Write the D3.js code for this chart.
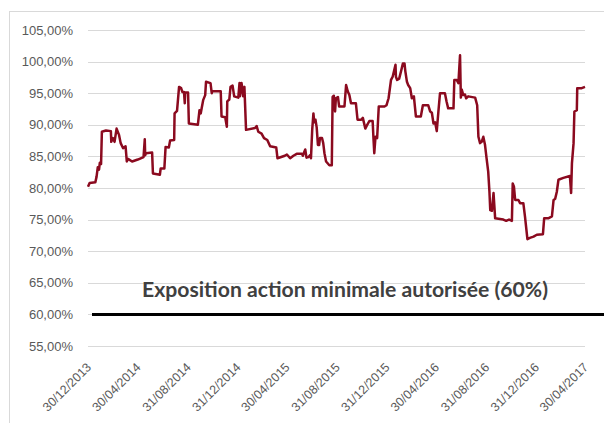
<!DOCTYPE html>
<html>
<head>
<meta charset="utf-8">
<script src="https://cdn.jsdelivr.net/npm/d3@7"></script>
<style>
  body { margin: 0; background: #fff; }
  svg { display: block; }
</style>
</head>
<body>
<div id="chart"></div>
<script>
// exposition action du fonds (en %)
const dates = [
  "2013-12-30","2014-01-03","2014-01-17","2014-01-20","2014-01-23","2014-01-26","2014-01-28","2014-01-31",
  "2014-02-02","2014-02-12","2014-02-24","2014-02-25","2014-03-01","2014-03-05","2014-03-10","2014-03-16",
  "2014-03-20","2014-03-26","2014-04-01","2014-04-04","2014-04-07","2014-04-17","2014-05-01","2014-05-15",
  "2014-05-18","2014-05-19","2014-05-21","2014-06-05","2014-06-07","2014-06-24","2014-06-26","2014-07-05",
  "2014-07-08","2014-07-16","2014-07-19","2014-07-29","2014-07-30","2014-08-05","2014-08-10","2014-08-15",
  "2014-08-18","2014-08-22","2014-08-24","2014-08-25","2014-09-01","2014-09-03","2014-09-25","2014-09-29",
  "2014-10-02","2014-10-04","2014-10-08","2014-10-13","2014-10-15","2014-10-26","2014-10-29","2014-10-30",
  "2014-11-20","2014-11-22","2014-12-01","2014-12-05","2014-12-06","2014-12-11","2014-12-14","2014-12-19",
  "2014-12-23","2015-01-02","2015-01-05","2015-01-06","2015-01-10","2015-01-14","2015-01-17","2015-01-21",
  "2015-02-12","2015-02-16","2015-02-20","2015-02-28","2015-03-06","2015-03-14","2015-03-21","2015-04-05",
  "2015-04-08","2015-04-26","2015-05-01","2015-05-09","2015-05-17","2015-05-25","2015-06-07","2015-06-09",
  "2015-06-15","2015-06-18","2015-06-23","2015-06-27","2015-06-29","2015-07-02","2015-07-05","2015-07-07",
  "2015-07-10","2015-07-13","2015-07-16","2015-07-19","2015-07-21","2015-07-26","2015-07-29","2015-08-01",
  "2015-08-05","2015-08-13","2015-08-19","2015-08-21","2015-08-24","2015-08-27","2015-08-29","2015-09-03",
  "2015-09-06","2015-09-19","2015-09-23","2015-09-27","2015-10-01","2015-10-05","2015-10-17","2015-10-21",
  "2015-10-30","2015-11-03","2015-11-09","2015-11-13","2015-11-19","2015-11-27","2015-11-29","2015-12-01",
  "2015-12-04","2015-12-08","2015-12-12","2015-12-26","2015-12-31","2016-01-05","2016-01-11","2016-01-15",
  "2016-01-22","2016-01-23","2016-01-26","2016-01-31","2016-02-05","2016-02-09","2016-02-13","2016-02-15",
  "2016-02-19","2016-02-22","2016-02-27","2016-03-02","2016-03-07","2016-03-12","2016-03-24","2016-03-29",
  "2016-04-11","2016-04-16","2016-04-20","2016-04-24","2016-04-28","2016-05-02","2016-05-06","2016-05-10",
  "2016-05-22","2016-05-26","2016-05-30","2016-06-12","2016-06-14","2016-06-20","2016-06-24","2016-06-28",
  "2016-06-30","2016-07-02","2016-07-06","2016-07-10","2016-07-13","2016-07-18","2016-08-04","2016-08-09",
  "2016-08-12","2016-08-16","2016-08-20","2016-08-24","2016-08-28","2016-09-01","2016-09-05","2016-09-08",
  "2016-09-10","2016-09-14","2016-09-18","2016-09-22","2016-10-12","2016-10-19","2016-10-26","2016-11-02",
  "2016-11-04","2016-11-07","2016-11-10","2016-11-18","2016-11-22","2016-11-30","2016-12-04","2016-12-10",
  "2016-12-16","2016-12-25","2017-01-02","2017-01-17","2017-01-20","2017-01-30","2017-02-08","2017-02-12",
  "2017-02-16","2017-02-20","2017-02-24","2017-03-08","2017-03-24","2017-03-27","2017-03-29","2017-04-02",
  "2017-04-04","2017-04-10","2017-04-11","2017-04-22","2017-04-30"
];

const exposure = [
  80.2, 80.8, 80.9, 81.8, 83.3, 82.9, 84.0, 83.8,
  88.9, 89.1, 89.0, 87.3, 87.9, 87.3, 89.4, 88.4,
  87.1, 86.3, 86.6, 84.2, 84.6, 84.2, 84.5, 84.9,
  87.7, 85.2, 85.5, 85.6, 82.3, 82.1, 83.1, 83.1,
  86.5, 86.4, 87.5, 87.6, 91.8, 92.2, 96.0, 95.8,
  95.2, 95.2, 93.4, 95.1, 95.1, 90.2, 90.0, 92.3,
  91.8, 92.5, 93.9, 94.7, 96.8, 96.6, 95.0, 95.3,
  95.3, 91.3, 91.2, 89.7, 93.7, 94.0, 96.0, 96.2,
  94.5, 94.3, 96.6, 94.5, 96.6, 94.5, 96.0, 89.2,
  89.5, 89.8, 88.9, 88.6, 87.9, 87.6, 86.6, 86.4,
  84.7, 85.1, 85.3, 84.7, 85.1, 85.4, 85.4, 85.1,
  86.1, 84.8, 84.9, 85.2, 84.7, 89.2, 91.8, 90.4,
  90.8, 89.6, 86.8, 86.8, 87.9, 87.9, 87.1, 85.5,
  84.2, 83.6, 83.6, 94.4, 94.6, 92.1, 94.2, 94.4,
  92.9, 92.9, 96.3, 95.3, 94.7, 93.4, 93.4, 90.8,
  90.8, 91.1, 89.4, 89.9, 90.6, 90.6, 87.9, 85.5,
  88.1, 87.9, 92.9, 92.9, 93.1, 94.2, 97.1, 97.6,
  99.5, 97.6, 97.1, 97.3, 98.6, 99.7, 99.7, 98.5,
  96.8, 96.3, 95.8, 94.2, 94.5, 91.3, 91.3, 93.1,
  93.1, 92.1, 91.9, 90.2, 90.4, 89.0, 92.1, 95.0,
  95.0, 93.7, 92.6, 92.6, 97.1, 97.1, 96.6, 101.0,
  94.3, 95.6, 94.7, 94.8, 94.2, 94.5, 94.3, 93.1,
  88.1, 87.1, 87.3, 88.1, 86.9, 84.7, 82.6, 79.4,
  76.5, 76.4, 79.2, 75.2, 75.0, 74.8, 75.0, 74.8,
  80.7, 80.2, 78.1, 78.1, 77.6, 77.6, 75.5, 71.9,
  72.1, 72.3, 72.6, 72.7, 75.2, 75.2, 75.5, 78.1,
  78.3, 79.4, 81.3, 81.6, 81.9, 79.2, 83.9, 87.1,
  92.1, 92.3, 95.8, 95.8, 96.0
];

const tickDates = [
  "2013-12-30","2014-04-30","2014-08-31","2014-12-31","2015-04-30","2015-08-31",
  "2015-12-31","2016-04-30","2016-08-31","2016-12-31","2017-04-30"
];
const yTicks = [55, 60, 65, 70, 75, 80, 85, 90, 95, 100, 105];
const minExposure = 60;
const annotation = "Exposition action minimale autorisée (60%)";

const W = 604, H = 423;
const plot = { left: 88, right: 585, top: 30, bottom: 346 };

const parse = d3.timeParse("%Y-%m-%d");
const data = dates.map((d, i) => ({ date: parse(d), value: exposure[i] }));
const ticks = tickDates.map(parse);

const fr = d3.formatLocale({ decimal: ",", thousands: " ", grouping: [3], currency: ["", " €"] });
const fmtPct = v => fr.format(".2f")(v) + "%";
const fmtDate = d3.timeFormat("%d/%m/%Y");

const svg = d3.select("#chart").append("svg")
  .attr("width", W)
  .attr("height", H);

const x = d3.scaleTime()
  .domain([ticks[0], ticks[ticks.length - 1]])
  .range([plot.left, plot.right]);

const y = d3.scaleLinear()
  .domain([55, 105])
  .range([plot.bottom, plot.top]);

// cadre du graphique
svg.append("rect")
  .attr("x", 9.5)
  .attr("y", 11.5)
  .attr("width", 700)
  .attr("height", 500)
  .attr("fill", "none")
  .attr("stroke", "#d9d9d9");

// quadrillage horizontal
svg.append("g")
  .selectAll("line")
  .data(yTicks)
  .join("line")
  .attr("x1", plot.left)
  .attr("x2", plot.right)
  .attr("y1", d => Math.round(y(d)) + 0.5)
  .attr("y2", d => Math.round(y(d)) + 0.5)
  .attr("stroke", "#d9d9d9")
  .attr("stroke-width", 1);

// axe Y
svg.append("g")
  .selectAll("text")
  .data(yTicks)
  .join("text")
  .attr("x", 73)
  .attr("y", d => y(d))
  .attr("dy", "0.35em")
  .attr("text-anchor", "end")
  .style("font-family", "'Liberation Sans', Arial, sans-serif")
  .style("font-size", "13px")
  .style("fill", "#595959")
  .text(fmtPct);

// axe X (étiquettes inclinées)
svg.append("g")
  .selectAll("text")
  .data(ticks)
  .join("text")
  .attr("transform", d => `translate(${x(d) + 4},${368}) rotate(-45)`)
  .attr("text-anchor", "end")
  .style("font-family", "'Liberation Sans', Arial, sans-serif")
  .style("font-size", "12.5px")
  .style("fill", "#595959")
  .text(fmtDate);

// seuil minimal
svg.append("line")
  .attr("x1", x(ticks[0]) + 4)
  .attr("x2", W)
  .attr("y1", y(minExposure))
  .attr("y2", y(minExposure))
  .attr("stroke", "#000")
  .attr("stroke-width", 3);

svg.append("text")
  .attr("x", 345)
  .attr("y", 297)
  .attr("text-anchor", "middle")
  .attr("textLength", 406)
  .attr("lengthAdjust", "spacingAndGlyphs")
  .style("font-family", "Lato, 'Open Sans', sans-serif")
  .style("font-weight", "bold")
  .style("font-size", "20px")
  .style("fill", "#404040")
  .text(annotation);

// courbe d'exposition
const line = d3.line()
  .x(d => x(d.date))
  .y(d => y(d.value));

svg.append("path")
  .datum(data)
  .attr("d", line)
  .attr("fill", "none")
  .attr("stroke", "#8b0a1f")
  .attr("stroke-width", 2.5)
  .attr("stroke-linejoin", "round");
</script>
</body>
</html>
